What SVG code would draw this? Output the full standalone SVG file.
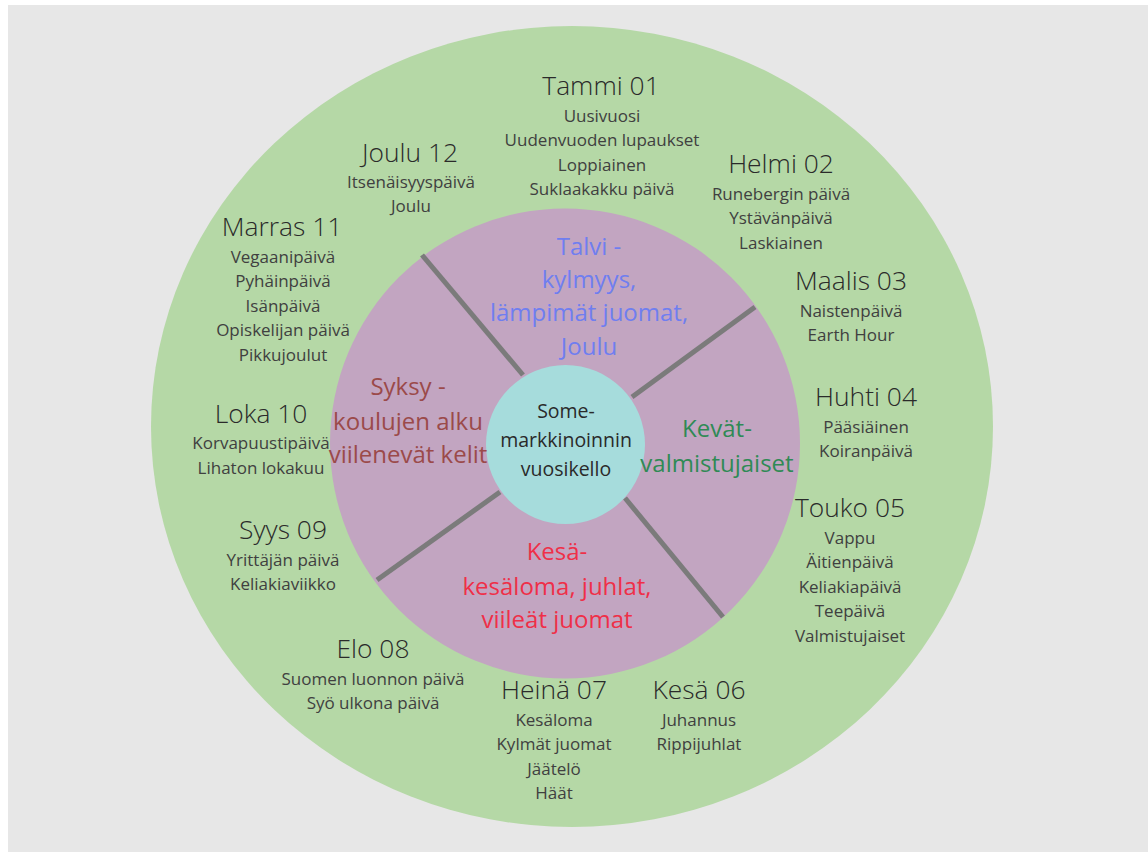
<svg xmlns="http://www.w3.org/2000/svg" width="1148" height="854" viewBox="0 0 1148 854">
<style>
  text { font-family: "Open Sans", "Liberation Sans", sans-serif; text-anchor: middle; }
  .t { font-size: 26.4px; font-weight: 300; fill: #2a2a2a; }
  .i { font-size: 17px; font-weight: 400; fill: #404040; }
  .s { font-size: 24px; font-weight: 400; }
  .c { font-size: 19.5px; font-weight: 400; fill: #2a2a2a; }
  .sep { stroke: #7b7b7b; stroke-width: 5; fill: none; }
</style>
<rect x="0" y="0" width="1148" height="854" fill="#ffffff"/>
<rect x="8" y="5" width="1140" height="847" fill="#e7e7e7"/>
<g id="outer-ring"><ellipse cx="572" cy="426.5" rx="421" ry="400.5" fill="#b5d8a6"/></g>
<g id="season-ring"><circle cx="565" cy="443.5" r="235" fill="#c2a5c1"/></g>
<g id="connectors">
  <line class="sep" x1="422" y1="255" x2="523" y2="375"/>
  <line class="sep" x1="755" y1="307" x2="632" y2="397"/>
  <line class="sep" x1="500" y1="492" x2="377" y2="580"/>
  <line class="sep" x1="625" y1="498" x2="723" y2="617"/>
</g>
<g id="center"><circle cx="565.5" cy="444.5" r="79.5" fill="#a6dcdc"/>
  <text class="c" x="566" y="418">Some-</text>
  <text class="c" x="566" y="447">markkinoinnin</text>
  <text class="c" x="566" y="476">vuosikello</text>
</g>
<g id="talvi">
  <text class="s" x="589" y="255" fill="#6f7ef0">Talvi -</text>
  <text class="s" x="589" y="288" fill="#6f7ef0">kylmyys,</text>
  <text class="s" x="589" y="321" fill="#6f7ef0">lämpimät juomat,</text>
  <text class="s" x="589" y="355" fill="#6f7ef0">Joulu</text>
</g>
<g id="syksy">
  <text class="s" x="408" y="395" fill="#9b4a4a">Syksy -</text>
  <text class="s" x="408" y="430" fill="#9b4a4a">koulujen alku</text>
  <text class="s" x="408" y="463" fill="#9b4a4a">viilenevät kelit</text>
</g>
<g id="kevat">
  <text class="s" x="717" y="437" fill="#2f8a55">Kevät-</text>
  <text class="s" x="717" y="472" fill="#2f8a55">valmistujaiset</text>
</g>
<g id="kesa">
  <text class="s" x="557" y="560" fill="#ef2f48">Kesä-</text>
  <text class="s" x="557" y="595" fill="#ef2f48">kesäloma, juhlat,</text>
  <text class="s" x="557" y="628" fill="#ef2f48">viileät juomat</text>
</g>
<g id="m01">
  <text class="t" x="601" y="95">Tammi 01</text>
  <text class="i" x="602" y="121.5">Uusivuosi</text>
  <text class="i" x="602" y="146">Uudenvuoden lupaukset</text>
  <text class="i" x="602" y="170.5">Loppiainen</text>
  <text class="i" x="602" y="195">Suklaakakku päivä</text>
</g>
<g id="m02">
  <text class="t" x="781" y="173">Helmi 02</text>
  <text class="i" x="781" y="199.5">Runebergin päivä</text>
  <text class="i" x="781" y="224">Ystävänpäivä</text>
  <text class="i" x="781" y="248.5">Laskiainen</text>
</g>
<g id="m03">
  <text class="t" x="851" y="290">Maalis 03</text>
  <text class="i" x="851" y="316.5">Naistenpäivä</text>
  <text class="i" x="851" y="341">Earth Hour</text>
</g>
<g id="m04">
  <text class="t" x="866" y="406">Huhti 04</text>
  <text class="i" x="866" y="432.5">Pääsiäinen</text>
  <text class="i" x="866" y="457">Koiranpäivä</text>
</g>
<g id="m05">
  <text class="t" x="850" y="517">Touko 05</text>
  <text class="i" x="850" y="543.5">Vappu</text>
  <text class="i" x="850" y="568">Äitienpäivä</text>
  <text class="i" x="850" y="592.5">Keliakiapäivä</text>
  <text class="i" x="850" y="617">Teepäivä</text>
  <text class="i" x="850" y="641.5">Valmistujaiset</text>
</g>
<g id="m06">
  <text class="t" x="699" y="699">Kesä 06</text>
  <text class="i" x="699" y="725.5">Juhannus</text>
  <text class="i" x="699" y="750">Rippijuhlat</text>
</g>
<g id="m07">
  <text class="t" x="554" y="699">Heinä 07</text>
  <text class="i" x="554" y="725.5">Kesäloma</text>
  <text class="i" x="554" y="750">Kylmät juomat</text>
  <text class="i" x="554" y="774.5">Jäätelö</text>
  <text class="i" x="554" y="799">Häät</text>
</g>
<g id="m08">
  <text class="t" x="373" y="658">Elo 08</text>
  <text class="i" x="373" y="684.5">Suomen luonnon päivä</text>
  <text class="i" x="373" y="709">Syö ulkona päivä</text>
</g>
<g id="m09">
  <text class="t" x="283" y="539">Syys 09</text>
  <text class="i" x="283" y="565.5">Yrittäjän päivä</text>
  <text class="i" x="283" y="590">Keliakiaviikko</text>
</g>
<g id="m10">
  <text class="t" x="261" y="423">Loka 10</text>
  <text class="i" x="261" y="449">Korvapuustipäivä</text>
  <text class="i" x="261" y="473.5">Lihaton lokakuu</text>
</g>
<g id="m11">
  <text class="t" x="282" y="236">Marras 11</text>
  <text class="i" x="283" y="262.5">Vegaanipäivä</text>
  <text class="i" x="283" y="287">Pyhäinpäivä</text>
  <text class="i" x="283" y="311.5">Isänpäivä</text>
  <text class="i" x="283" y="336">Opiskelijan päivä</text>
  <text class="i" x="283" y="360.5">Pikkujoulut</text>
</g>
<g id="m12">
  <text class="t" x="410" y="162">Joulu 12</text>
  <text class="i" x="411" y="187.5">Itsenäisyyspäivä</text>
  <text class="i" x="411" y="212">Joulu</text>
</g>
</svg>
